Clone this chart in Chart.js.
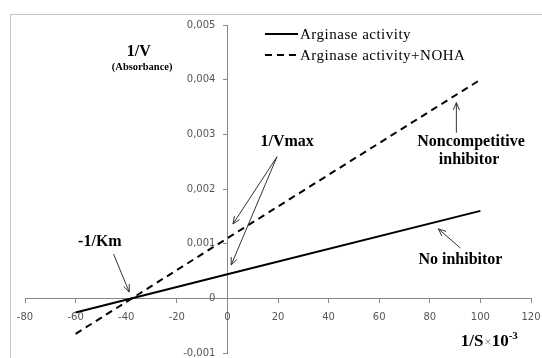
<!DOCTYPE html>
<html>
<head>
<meta charset="utf-8">
<script src="https://cdn.jsdelivr.net/npm/chart.js@4.4.1/dist/chart.umd.min.js"></script>
<style>
  html, body { margin: 0; padding: 0; background: #fff; }
  #wrap { width: 542px; height: 358px; position: relative; }
</style>
</head>
<body>
<div id="wrap"><canvas id="chart"></canvas></div>
<script>
// 1/S x 10^-3 values where the lines start, cross the y axis and end
const substrate = [-60, 0, 100];
// 1/V (absorbance)
const noInhibitor = [-0.00026, 0.00044, 0.0016];
const withNoha = [-0.00065, 0.0011, 0.004];
const seriesNames = ['Arginase activity', 'Arginase activity+NOHA'];

const serif = '"Liberation Serif", "Times New Roman", serif';

function toPoints(xs, ys) {
    return xs.map((x, i) => ({ x: x, y: ys[i] }));
}

function fmtY(v) {
    const r = Math.round(v * 1000) / 1000;
    return r === 0 ? '0' : r.toFixed(3).replace('.', ',');
}

function arrow(ctx, x1, y1, x2, y2) {
    const a = Math.atan2(y2 - y1, x2 - x1);
    const len = 8;
    ctx.beginPath();
    ctx.moveTo(x1, y1);
    ctx.lineTo(x2, y2);
    ctx.moveTo(x2 - len * Math.cos(a - 0.4), y2 - len * Math.sin(a - 0.4));
    ctx.lineTo(x2, y2);
    ctx.lineTo(x2 - len * Math.cos(a + 0.4), y2 - len * Math.sin(a + 0.4));
    ctx.stroke();
}

const frame = {
    id: 'frame',
    beforeDraw(chart) {
        const ctx = chart.ctx;
        ctx.save();
        ctx.fillStyle = '#fff';
        ctx.fillRect(0, 0, chart.width, chart.height);
        ctx.strokeStyle = '#c4c4c4';
        ctx.lineWidth = 1;
        ctx.strokeRect(10.5, 14.5, 600, 400);
        ctx.restore();
    }
};

// tick labels drawn here so they sit beside the crossing axes like the original
const tickLabels = {
    id: 'tickLabels',
    afterDraw(chart) {
        const { ctx, scales: { x, y } } = chart;
        const x0 = x.getPixelForValue(0);
        const y0 = y.getPixelForValue(0);
        ctx.save();
        ctx.font = '10px "DejaVu Sans", sans-serif';
        ctx.fillStyle = '#555';
        ctx.textBaseline = 'middle';
        ctx.textAlign = 'right';
        y.ticks.forEach(t => {
            ctx.fillText(fmtY(t.value), x0 - 12, y.getPixelForValue(t.value));
        });
        ctx.textAlign = 'center';
        x.ticks.forEach(t => {
            ctx.fillText(String(t.value), x.getPixelForValue(t.value), y0 + 19);
        });
        ctx.restore();
    }
};

const notes = {
    id: 'notes',
    afterDraw(chart) {
        const { ctx, scales: { x, y } } = chart;
        const px = v => x.getPixelForValue(v);
        const py = v => y.getPixelForValue(v);
        ctx.save();

        // legend
        chart.data.datasets.forEach((ds, i) => {
            const ly = 34 + i * 21;
            ctx.strokeStyle = ds.borderColor;
            ctx.lineWidth = 2;
            ctx.setLineDash(ds.borderDash || []);
            ctx.beginPath();
            ctx.moveTo(265, ly);
            ctx.lineTo(298, ly);
            ctx.stroke();
            ctx.setLineDash([]);
            ctx.fillStyle = '#000';
            ctx.font = '15px ' + serif;
            ctx.letterSpacing = '0.5px';
            ctx.textAlign = 'left';
            ctx.textBaseline = 'middle';
            ctx.fillText(ds.label, 300, ly + 1);
        });
        ctx.letterSpacing = '0px';

        // labels
        ctx.fillStyle = '#000';
        ctx.textAlign = 'center';
        ctx.textBaseline = 'middle';
        ctx.font = 'bold 16px ' + serif;
        ctx.fillText('1/V', px(-35), py(0.00451));
        ctx.fillText('1/Vmax', px(23.6), py(0.00286));
        ctx.fillText('-1/Km', px(-50.4), py(0.00103));
        ctx.fillText('Noncompetitive', px(96.3), py(0.00286));
        ctx.fillText('inhibitor', px(95.5), py(0.00253));
        ctx.fillText('No inhibitor', px(92.1), py(0.0007));
        ctx.font = 'bold 10.5px ' + serif;
        ctx.fillText('(Absorbance)', px(-33.7), py(0.00422));

        // x axis title 1/S x 10^-3
        ctx.textAlign = 'left';
        let tx = px(92.2);
        const ty = py(-0.0008);
        ctx.font = 'bold 17px ' + serif;
        ctx.fillText('1/S', tx, ty);
        tx += ctx.measureText('1/S').width + 1;
        ctx.font = '13px ' + serif;
        ctx.fillStyle = '#777';
        ctx.fillText('×', tx, ty + 1);
        tx += ctx.measureText('×').width;
        ctx.fillStyle = '#000';
        ctx.font = 'bold 17px ' + serif;
        ctx.fillText('10', tx, ty);
        tx += ctx.measureText('10').width;
        ctx.font = 'bold 11px ' + serif;
        ctx.fillText('-3', tx, ty - 6);

        // arrows
        ctx.strokeStyle = '#333';
        ctx.lineWidth = 1;
        arrow(ctx, px(19.6), py(0.00259), px(2.2), py(0.00136));
        arrow(ctx, px(19.6), py(0.00259), px(1.5), py(0.00061));
        arrow(ctx, px(-45), py(0.00081), px(-38.8), py(0.000115));
        arrow(ctx, px(90.5), py(0.00303), px(90.5), py(0.00358));
        arrow(ctx, px(92.1), py(0.00092), px(83.4), py(0.00127));
        ctx.restore();
    }
};

new Chart(document.getElementById('chart'), {
    type: 'line',
    data: {
        datasets: [{
            label: seriesNames[0],
            data: toPoints(substrate, noInhibitor),
            borderColor: '#000',
            borderWidth: 2,
            pointRadius: 0,
            tension: 0
        }, {
            label: seriesNames[1],
            data: toPoints(substrate, withNoha),
            borderColor: '#000',
            borderWidth: 2,
            borderDash: [7, 5],
            pointRadius: 0,
            tension: 0
        }]
    },
    options: {
        responsive: true,
        maintainAspectRatio: false,
        animation: false,
        devicePixelRatio: 1,
        layout: { padding: { left: 25, right: 11, top: 25, bottom: 5 } },
        plugins: { legend: { display: false }, tooltip: { enabled: false } },
        scales: {
            x: {
                type: 'linear',
                min: -80,
                max: 120,
                position: { y: 0 },
                border: { color: '#888', width: 1 },
                grid: { drawOnChartArea: false, tickLength: 4, color: '#888' },
                ticks: { stepSize: 20, display: false }
            },
            y: {
                type: 'linear',
                min: -0.001,
                max: 0.005,
                position: { x: 0 },
                border: { color: '#888', width: 1 },
                grid: { drawOnChartArea: false, tickLength: 4, color: '#888' },
                ticks: { stepSize: 0.001, display: false }
            }
        }
    },
    plugins: [frame, tickLabels, notes]
});
</script>
</body>
</html>
